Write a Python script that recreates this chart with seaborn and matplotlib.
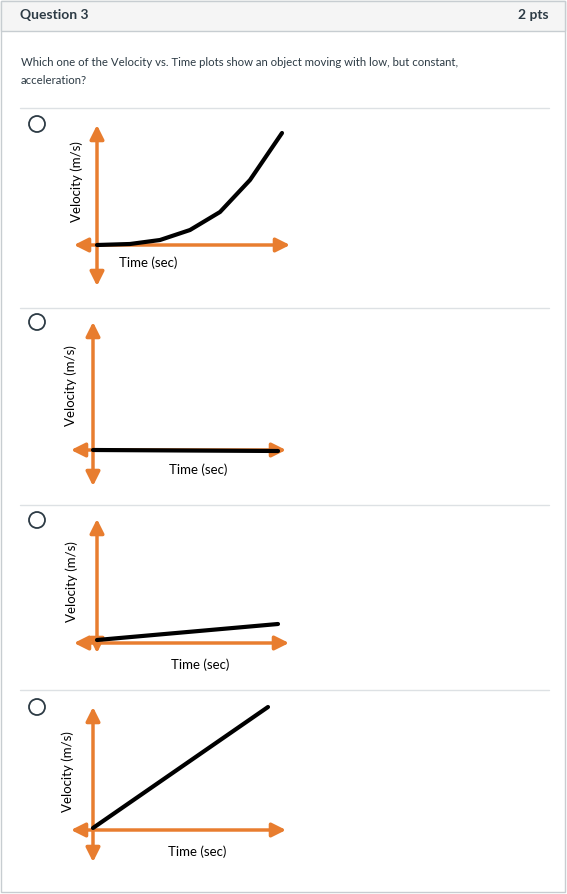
import matplotlib
matplotlib.use("Agg")
import matplotlib.pyplot as plt
import seaborn as sns
import pandas as pd
from matplotlib.patches import FancyArrowPatch, Rectangle, Circle

sns.set_style("white")
plt.rcParams['font.family'] = ['Lato', 'DejaVu Sans']

title = "Question 3"
points = "2 pts"
question = ["Which one of the Velocity vs. Time plots show an object moving with low, but constant,",
            "acceleration?"]
ylabel = "Velocity (m/s)"
xlabel = "Time (sec)"

# panel geometry (pixel frame): vertical arrow x, y-top, y-bottom, horizontal y, x-left, x-right
panels = [
    dict(vx=97, vt=125, vb=286, hy=245, hl=74, hr=290, ylx=77, yly=182, tlx=148, tly=263, radio=124),
    dict(vx=93, vt=322, vb=486, hy=450, hl=71, hr=286, ylx=71, yly=386, tlx=198, tly=470, radio=322),
    dict(vx=97, vt=519, vb=653, hy=643, hl=74, hr=289, ylx=72, yly=582, tlx=200, tly=665, radio=520),
    dict(vx=93, vt=707, vb=862, hy=830, hl=71, hr=286, ylx=68, yly=772, tlx=197, tly=852, radio=707),
]
curve_x = [[97, 130, 160, 190, 220, 250, 282], [93, 278], [97, 278], [93, 268]]
curve_y = [[245, 244, 240, 230, 212, 180, 133], [450, 451], [640, 624], [828, 707]]
separators = [108, 308, 505, 690]

W, H = 567, 894
fig = plt.figure(figsize=(W/100, H/100), dpi=100)
ax = fig.add_axes([0, 0, 1, 1])
ax.set_xlim(0, W); ax.set_ylim(H, 0); ax.axis('off')

ax.add_patch(Rectangle((1, 1), W-3, H-3, fill=False, ec='#c7cdd1', lw=1))
ax.add_patch(Rectangle((1, 1), W-3, 30, fc='#f5f5f5', ec='#c7cdd1', lw=1))
ax.text(20, 15, title, fontsize=10, fontweight='bold', va='center', color='#2d3b45')
ax.text(549, 15, points, fontsize=10, fontweight='bold', va='center', ha='right', color='#2d3b45')
ax.text(21, 63, question[0], fontsize=8.2, va='center', color='#2d3b45')
ax.text(21, 80, question[1], fontsize=8.2, va='center', color='#2d3b45')
for s in separators:
    ax.plot([20, 549], [s, s], color='#dde1e4', lw=1)

orange = '#e87d2f'
for i, p in enumerate(panels):
    ax.add_patch(Circle((37, p['radio']), 8, fill=False, ec='#2d3b45', lw=1.3))
    for (a, b) in [((p['vx'], p['vb']), (p['vx'], p['vt'])), ((p['hl'], p['hy']), (p['hr'], p['hy']))]:
        ax.add_patch(FancyArrowPatch(a, b, arrowstyle='<|-|>,head_length=7,head_width=3.5',
                                     color=orange, lw=2.5, mutation_scale=1.2, shrinkA=0, shrinkB=0))
    df = pd.DataFrame({'x': curve_x[i], 'y': curve_y[i]})
    sns.lineplot(data=df, x='x', y='y', ax=ax, color='black', lw=3, sort=False)
    ax.text(p['ylx'], p['yly'], ylabel, rotation=90, fontsize=9.5, ha='center', va='center', color='black')
    ax.text(p['tlx'], p['tly'], xlabel, fontsize=9.5, ha='center', va='center', color='black')

ax.set_xlim(0, W); ax.set_ylim(H, 0); ax.axis('off')
fig.savefig('out.png', dpi=100)
